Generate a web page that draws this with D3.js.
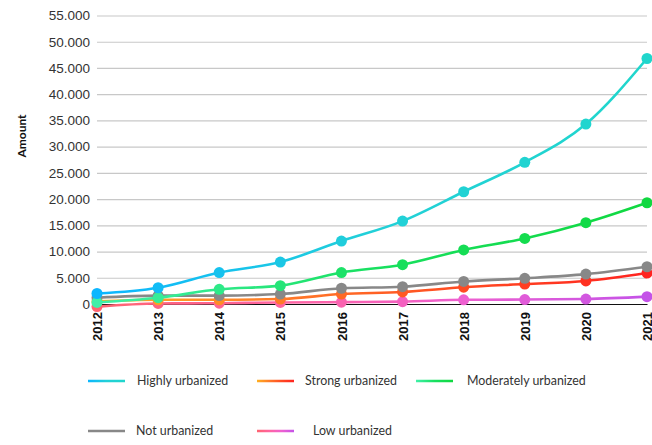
<!DOCTYPE html>
<html>
<head>
<meta charset="utf-8">
<script src="https://cdn.jsdelivr.net/npm/d3@7"></script>
<style>
  body { margin: 0; background: #fff; }
  svg { font-family: Lato, "Noto Sans", sans-serif; }
</style>
</head>
<body>
<svg id="chart" width="652" height="445"></svg>
<script>
var years = [2012, 2013, 2014, 2015, 2016, 2017, 2018, 2019, 2020, 2021]
var yTicks = [0, 5000, 10000, 15000, 20000, 25000, 30000, 35000, 40000, 45000, 50000, 55000]

var highly = [2000, 3100, 6000, 8000, 12000, 15800, 21400, 27000, 34300, 46800]
var strong = [500, 800, 800, 950, 1900, 2300, 3200, 3800, 4400, 5900]
var moderate = [300, 1200, 2800, 3500, 6000, 7500, 10300, 12500, 15500, 19300]
var notUrb = [1200, 1600, 1600, 1900, 3000, 3300, 4300, 4900, 5700, 7100]
var low = [-500, 100, 150, 300, 350, 450, 800, 850, 950, 1400]

var seriesNames = ['Low urbanized', 'Strong urbanized', 'Not urbanized', 'Moderately urbanized', 'Highly urbanized']
var seriesValues = [low, strong, notUrb, moderate, highly]
var seriesColors = [
  ['#ff6470', '#ff64a0', '#ee60d0', '#c452e8'],
  ['#ffb020', '#ff7a28', '#ff4a22', '#ff2420'],
  ['#888888', '#888888'],
  ['#40f0a8', '#18e060', '#10d840'],
  ['#0cb6ff', '#22d0d8', '#20d6cc']
]

;(function () {
  var svg = d3.select('#chart')
  var left = 97; var right = 647; var top = 15.5; var bottom = 304

  var x = d3.scalePoint().domain(years).range([left, right])
  var y = d3.scaleLinear().domain([0, 55000]).range([bottom, top])
  var fmt = function (d) { return d3.format(',')(d).replace(/,/g, '.') }

  // gridlines + y labels
  var yAxis = svg.append('g').attr('transform', 'translate(' + left + ',0)')
    .call(d3.axisLeft(y).tickValues(yTicks).tickFormat(fmt).tickSize(-(right - left)).tickPadding(7))
  yAxis.select('.domain').remove()
  yAxis.selectAll('.tick line').attr('stroke', '#c8c8c8').attr('stroke-width', 1.2)
  yAxis.selectAll('.tick text').attr('fill', '#333').attr('font-size', 13.5)

  // x axis
  var xAxis = svg.append('g').attr('transform', 'translate(0,' + bottom + ')')
    .call(d3.axisBottom(x).tickSize(0).tickPadding(0))
  xAxis.select('.domain').attr('stroke', '#111').attr('stroke-width', 1.2)
  xAxis.selectAll('.tick text')
    .attr('transform', 'rotate(-90)')
    .attr('x', -8).attr('dy', '0.35em').attr('y', 0)
    .attr('text-anchor', 'end')
    .attr('font-size', 13).attr('font-weight', 'bold').attr('fill', '#111')

  svg.append('text')
    .attr('transform', 'translate(26,136) rotate(-90)')
    .attr('text-anchor', 'middle')
    .attr('font-size', 12).attr('font-weight', 'bold').attr('fill', '#111')
    .text('Amount')

  var defs = svg.append('defs')
  function gradient (id, colors, x1, x2) {
    var g = defs.append('linearGradient').attr('id', id)
      .attr('gradientUnits', 'userSpaceOnUse')
      .attr('x1', x1).attr('x2', x2).attr('y1', 0).attr('y2', 0)
    g.selectAll('stop').data(colors).enter().append('stop')
      .attr('offset', function (d, i) { return i / (colors.length - 1) })
      .attr('stop-color', function (d) { return d })
  }

  var line = d3.line()
    .x(function (d, i) { return x(years[i]) })
    .y(function (d) { return y(d) })
    .curve(d3.curveMonotoneX)

  seriesValues.forEach(function (vals, s) {
    var colors = seriesColors[s]
    gradient('g' + s, colors, left, right)
    var colorAt = d3.scaleLinear()
      .domain(colors.map(function (c, i) { return left + (right - left) * i / (colors.length - 1) }))
      .range(colors)
    var grp = svg.append('g')
    grp.append('path').datum(vals)
      .attr('d', line)
      .attr('fill', 'none')
      .attr('stroke', 'url(#g' + s + ')')
      .attr('stroke-width', 2.6)
    grp.selectAll('circle').data(vals).enter().append('circle')
      .attr('cx', function (d, i) { return x(years[i]) })
      .attr('cy', function (d) { return y(d) })
      .attr('r', 5.5)
      .attr('fill', function (d, i) { return colorAt(x(years[i])) })
  })

  // legend
  var legendItems = [
    { name: 'Highly urbanized', s: 4, lx: 88, tx: 137, ly: 381 },
    { name: 'Strong urbanized', s: 1, lx: 257, tx: 305, ly: 381 },
    { name: 'Moderately urbanized', s: 3, lx: 416, tx: 467, ly: 381 },
    { name: 'Not urbanized', s: 2, lx: 88, tx: 136, ly: 431 },
    { name: 'Low urbanized', s: 0, lx: 257, tx: 313, ly: 431 }
  ]
  var leg = svg.append('g')
  legendItems.forEach(function (d) {
    gradient('lg' + d.s, seriesColors[d.s], d.lx, d.lx + 37)
    leg.append('line')
      .attr('x1', d.lx).attr('x2', d.lx + 37).attr('y1', d.ly).attr('y2', d.ly)
      .attr('stroke', 'url(#lg' + d.s + ')').attr('stroke-width', 2.6)
    leg.append('text')
      .attr('x', d.tx).attr('y', d.ly).attr('dy', '0.35em')
      .attr('font-size', 12.4).attr('fill', '#333')
      .text(d.name)
  })
})()
</script>
</body>
</html>
